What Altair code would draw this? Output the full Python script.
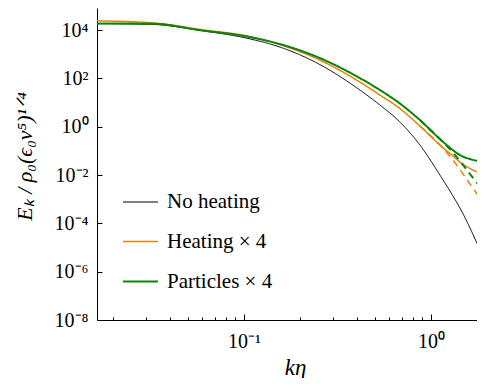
import altair as alt
import pandas as pd

# k*eta sample positions (shared by all curves)
k_vals = [0.0164, 0.0326, 0.0582, 0.108, 0.156, 0.255, 0.417, 0.534, 0.683, 0.873,
          1.117, 1.311, 1.429, 1.617, 1.945]

# Spectra E_k / rho0 (eps0 nu^5)^(1/4)
no_heating = [1.86e4, 1.72e4, 9.72e3, 4.32e3, 1.98e3, 374, 33.0, 7.89, 1.56, 0.175,
              1.0e-2, 1.36e-3, 4.33e-4, 6.43e-5, 2.52e-6]
heating_x4 = [2.43e4, 2.0e4, 1.07e4, 5.38e3, 2.51e3, 574, 70.6, 20.5, 5.65, 1.07,
              0.175, 6.12e-2, 3.46e-2, 1.86e-2, 1.05e-2]
particles_x4 = [1.89e4, 1.84e4, 1.0e4, 5.13e3, 2.64e3, 695, 103, 33.0, 9.10, 1.89,
                0.309, 0.108, 6.73e-2, 4.60e-2, 3.46e-2]

# dashed continuations (from k = 0.873)
k_dash = [0.873, 1.117, 1.311, 1.429, 1.617, 1.945]
heating_dash = [1.07, 0.175, 4.18e-2, 1.69e-2, 4.26e-3, 5.75e-4]
particles_dash = [1.89, 0.309, 8.55e-2, 3.80e-2, 1.10e-2, 1.80e-3]

series_names = ["No heating", "Heating \u00d7 4", "Particles \u00d7 4"]
series_colors = ["#000000", "#e2830a", "#0a850a"]
series_widths = [1.0, 2.0, 2.0]

y_ticks = [1e-8, 1e-6, 1e-4, 1e-2, 1e0, 1e2, 1e4]
y_labels = ["10\u207b\u2078", "10\u207b\u2076", "10\u207b\u2074", "10\u207b\u00b2", "10\u2070", "10\u00b2", "10\u2074"]
x_ticks = [0.1, 1.0]
x_labels = ["10\u207b\u00b9", "10\u2070"]
x_minor = [0.02, 0.03, 0.04, 0.05, 0.06, 0.07, 0.08, 0.09, 0.1,
           0.2, 0.3, 0.4, 0.5, 0.6, 0.7, 0.8, 0.9, 1.0]

rows = []
for name, vals in zip(series_names, [no_heating, heating_x4, particles_x4]):
    for k, e in zip(k_vals, vals):
        rows.append({"k": k, "E": e, "series": name, "style": "solid"})
for name, vals in zip(series_names[1:], [heating_dash, particles_dash]):
    for k, e in zip(k_dash, vals):
        rows.append({"k": k, "E": e, "series": name, "style": "dashed"})
df = pd.DataFrame(rows)

W, H = 388, 312
xdom = [0.01637, 1.945]
ydom = [1e-8, 10 ** 4.917]
FONT = "Liberation Serif"

xscale = alt.Scale(type="log", domain=xdom, nice=False)
yscale = alt.Scale(type="log", domain=ydom, nice=False)

y_expr = "[" + ",".join("'%s'" % s for s in y_labels) + "][round((log(datum.value)/LN10 + 8)/2)]"
x_expr = "[" + ",".join("'%s'" % s for s in x_labels) + "][round(log(datum.value)/LN10) + 1]"

leg = dict(title=None, orient="none", legendX=25, legendY=176,
           symbolType="stroke", symbolSize=1225,
           labelFont=FONT, labelFontSize=21, labelColor="black",
           labelOffset=8, rowPadding=11, padding=0)

lines = alt.Chart(df).mark_line(interpolate="monotone", clip=True).encode(
    x=alt.X("k:Q", scale=xscale,
            axis=alt.Axis(values=x_ticks, labelExpr=x_expr, ticks=False, tickSize=0,
                          grid=False, labelFont=FONT, labelFontSize=20, labelPadding=11,
                          labelColor="black", domainColor="black",
                          title="k\u03b7", titleFont=FONT, titleFontSize=23,
                          titleFontStyle="italic", titleFontWeight="normal",
                          titleColor="black", titleX=198, titleY=54,
                          titleBaseline="alphabetic", titleAlign="center")),
    y=alt.Y("E:Q", scale=yscale,
            axis=alt.Axis(values=y_ticks, labelExpr=y_expr, ticks=False, tickSize=0,
                          grid=False, labelFont=FONT, labelFontSize=20, labelPadding=9,
                          labelColor="black", domainColor="black",
                          title="E\u2096 / \u03c1\u2080(\u03f5\u2080\u03bd\u2075)\u00b9\u141f\u2074",
                          titleFont=FONT, titleFontSize=22, titleFontStyle="italic",
                          titleFontWeight="normal", titleColor="black",
                          titleX=-73, titleY=148, titleAngle=270,
                          titleBaseline="middle", titleAlign="center")),
    color=alt.Color("series:N", scale=alt.Scale(domain=series_names, range=series_colors),
                    legend=alt.Legend(**leg)),
    strokeWidth=alt.StrokeWidth("series:N",
                                scale=alt.Scale(domain=series_names, range=series_widths),
                                legend=alt.Legend(**leg)),
    strokeDash=alt.StrokeDash("style:N",
                              scale=alt.Scale(domain=["solid", "dashed"], range=[[1, 0], [7, 5]]),
                              legend=None),
    order=alt.Order("style:N"),
)

ticks = alt.Chart(df).mark_point(opacity=0).encode(
    x=alt.X("k:Q", scale=xscale,
            axis=alt.Axis(orient="top", offset=-H, values=x_minor, labels=False, domain=False,
                          grid=False, title=None, tickColor="black",
                          tickSize={"condition": {"test": "abs(log(datum.value)/LN10 - round(log(datum.value)/LN10)) < 0.01",
                                                  "value": 6}, "value": 3})),
    y=alt.Y("E:Q", scale=yscale,
            axis=alt.Axis(orient="right", offset=-W, values=y_ticks, labels=False, domain=False,
                          grid=False, title=None, tickColor="black", tickSize=5)),
)

chart = alt.layer(lines, ticks).resolve_axis(x="independent", y="independent").properties(
    width=W, height=H,
    background="white",
    padding={"left": 89, "top": 0, "right": -8, "bottom": 58},
    autosize=alt.AutoSizeParams(type="none"),
).configure_view(strokeWidth=0, stroke="transparent")

chart.save("out.html", embed_options={"renderer": "svg", "actions": False})
